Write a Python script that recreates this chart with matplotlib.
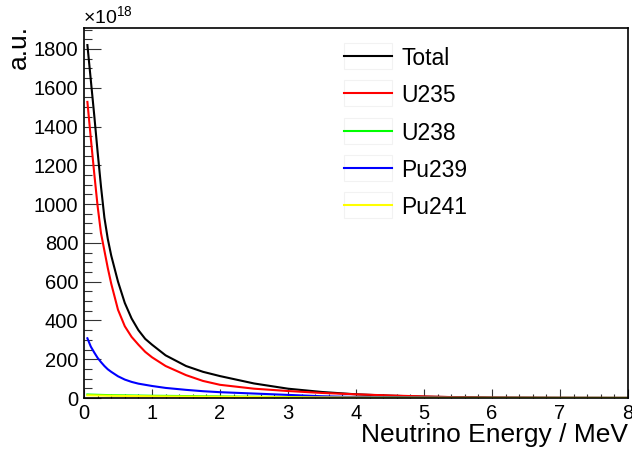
import matplotlib
matplotlib.use("Agg")
import matplotlib.pyplot as plt
from matplotlib.ticker import MultipleLocator

plt.rcParams['font.family'] = ['Liberation Sans', 'DejaVu Sans']
plt.rcParams['mathtext.fontset'] = 'custom'
plt.rcParams['mathtext.rm'] = 'Liberation Sans'

# neutrino energy (MeV) and spectra in units of 1e18
energy = [0.05, 0.1, 0.15, 0.2, 0.25, 0.3, 0.35, 0.4, 0.5, 0.6, 0.7, 0.8, 0.9, 1.0,
          1.2, 1.5, 1.75, 2.0, 2.5, 3.0, 3.5, 4.0, 4.5, 5.0, 5.5, 6.0, 7.0, 8.0]
total = [1820, 1640, 1460, 1270, 1090, 930, 820, 735, 600, 490, 410, 350, 305, 275,
         220, 165, 135, 113, 75, 48, 31, 19, 12, 7, 4, 2, 1, 0.5]
u235 = [1527, 1340, 1160, 990, 850, 760, 670, 590, 455, 370, 315, 275, 238, 210,
        165, 118, 88, 68, 48, 36, 26, 19, 13, 8, 4, 2, 1, 0.5]
u238 = [18, 17.5, 17, 16.5, 16, 15.5, 15, 14.5, 14, 13.5, 13, 12.5, 12, 11.5,
        11, 10, 9, 8, 6.5, 5, 4, 3, 2, 1.2, 0.7, 0.4, 0.2, 0.1]
pu239 = [308, 265, 235, 207, 185, 165, 148, 135, 112, 95, 83, 74, 68, 62,
         52, 42, 35, 30, 23, 16, 9, 5, 3, 2, 1, 0.5, 0.2, 0.1]
pu241 = [14, 13.7, 13.4, 13, 12.7, 12.4, 12, 11.7, 11.2, 10.7, 10.2, 9.8, 9.4, 9,
         8.3, 7.5, 6.8, 6, 5, 4, 3, 2.2, 1.5, 1, 0.6, 0.3, 0.1, 0.05]

names = ["Total", "U235", "U238", "Pu239", "Pu241"]
spectra = [total, u235, u238, pu239, pu241]
colors = ["#000000", "#ff0000", "#00ff00", "#0000ff", "#ffff00"]

W, H = 632, 454
fig = plt.figure(figsize=(W / 100, H / 100), dpi=100)
ax = fig.add_axes([84 / W, 1 - 398 / H, 544 / W, 370 / H])

for name, vals, col in zip(names, spectra, colors):
    ax.plot(energy, vals, color=col, lw=1.5)

ax.set_xlim(0, 8)
ax.set_ylim(0, 1908)
ax.xaxis.set_major_locator(MultipleLocator(1))
ax.xaxis.set_minor_locator(MultipleLocator(0.2))
ax.yaxis.set_major_locator(MultipleLocator(200))
ax.yaxis.set_minor_locator(MultipleLocator(50))
ax.tick_params(which='both', direction='in', top=False, right=False,
               labelsize=14.5, width=0.8, color='#333333')
ax.tick_params(axis='y', which='major', length=12, pad=4)
ax.tick_params(axis='y', which='minor', length=6)
ax.tick_params(axis='x', which='major', length=6.5, pad=4)
ax.tick_params(axis='x', which='minor', length=3)
for sp in ax.spines.values():
    sp.set_linewidth(1.2)

# axis titles, ROOT style (at the ends of the axes)
fig.text(628 / W, 1 - 442 / H, "Neutrino Energy / MeV", fontsize=19,
         ha='right', va='baseline')
fig.text(19 / W, 1 - 25 / H, "a.u.", fontsize=19, rotation=90,
         ha='center', va='top')
fig.text(83 / W, 1 - 24 / H, r'$\times10^{18}$', fontsize=14,
         ha='left', va='baseline')

# legend
row_y = [56, 93.3, 130.7, 167.7, 204.7]
for name, col, yy in zip(names, colors, row_y):
    fig.add_artist(plt.Rectangle((344 / W, 1 - (yy + 13) / H), 48 / W, 26 / H,
                                 transform=fig.transFigure, fill=False,
                                 edgecolor='#f2f2f2', lw=0.8))
    fig.add_artist(plt.Line2D([344 / W, 392 / W], [1 - yy / H, 1 - yy / H],
                              transform=fig.transFigure, color=col, lw=1.5))
    fig.text(401 / W, 1 - yy / H, name, fontsize=16.5, ha='left',
             va='center_baseline')

fig.savefig("out.png", dpi=100)
